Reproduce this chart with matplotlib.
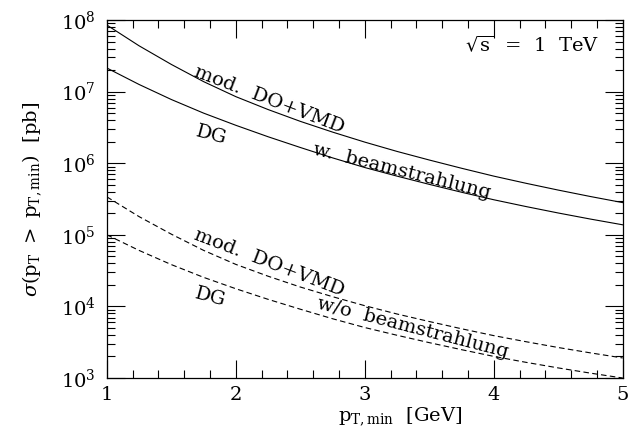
import numpy as np
import matplotlib
matplotlib.use('Agg')
import matplotlib.pyplot as plt
from matplotlib.ticker import LogLocator, MultipleLocator, NullFormatter

plt.rcParams['font.family'] = ['DejaVu Serif']
plt.rcParams['mathtext.fontset'] = 'dejavuserif'

# pT,min [GeV]
pt_min = [1.0, 1.25, 1.5, 1.75, 2.0, 2.25, 2.5, 2.75, 3.0,
          3.25, 3.5, 3.75, 4.0, 4.25, 4.5, 4.75, 5.0]

# log10(sigma / pb)
log_with_beam_do_vmd = [7.93, 7.64, 7.38, 7.14, 6.93, 6.75, 6.585, 6.435, 6.295,
                        6.165, 6.045, 5.93, 5.82, 5.72, 5.625, 5.535, 5.45]
log_with_beam_dg = [7.33, 7.10, 6.89, 6.70, 6.53, 6.37, 6.22, 6.075, 5.94,
                    5.82, 5.705, 5.595, 5.49, 5.395, 5.305, 5.22, 5.14]
log_without_beam_do_vmd = [5.53, 5.254, 5.009, 4.783, 4.587, 4.422, 4.271, 4.136, 4.01,
                           3.894, 3.789, 3.688, 3.592, 3.507, 3.426, 3.351, 3.28]
log_without_beam_dg = [5.00, 4.782, 4.584, 4.406, 4.247, 4.099, 3.961, 3.828, 3.705,
                       3.597, 3.494, 3.396, 3.302, 3.219, 3.141, 3.068, 3.00]

fig = plt.figure(figsize=(6.4, 4.36), dpi=100)
ax = fig.add_axes([0.167, 0.133, 0.806, 0.821])

dash = (0, (5, 3))
ax.plot(pt_min, 10**np.array(log_with_beam_do_vmd), color='black', lw=0.8)
ax.plot(pt_min, 10**np.array(log_with_beam_dg), color='black', lw=0.8)
ax.plot(pt_min, 10**np.array(log_without_beam_do_vmd), color='black', lw=0.8, ls=dash)
ax.plot(pt_min, 10**np.array(log_without_beam_dg), color='black', lw=0.8, ls=dash)

ax.set_yscale('log')
ax.set_xlim(1, 5)
ax.set_ylim(1e3, 1e8)

ax.xaxis.set_major_locator(MultipleLocator(1))
ax.xaxis.set_minor_locator(MultipleLocator(0.2))
ax.yaxis.set_major_locator(LogLocator(base=10, numticks=10))
ax.yaxis.set_minor_locator(LogLocator(base=10, subs=np.arange(2, 10), numticks=20))
ax.yaxis.set_minor_formatter(NullFormatter())
ax.tick_params(which='both', direction='in', top=True, right=True, width=0.8, labelsize=14)
ax.tick_params(which='major', length=13)
ax.tick_params(axis='x', which='major', pad=6)
ax.tick_params(axis='y', which='major', pad=8)
ax.tick_params(which='minor', length=6)
for s in ax.spines.values():
    s.set_linewidth(0.9)

ax.set_xlabel(r'$\mathrm{p_{T,min}}$  [GeV]', fontsize=14)
ax.xaxis.set_label_coords(0.568, -0.078)
ax.set_ylabel(r'$\sigma(\mathrm{p_T}\ >\ \mathrm{p_{T,min}})$  [pb]', fontsize=14, labelpad=12)

lab = dict(fontsize=14, ha='center', va='center')
ax.text(2.26, 10**6.88, 'mod.  DO+VMD', rotation=-21, **lab)
ax.text(1.81, 10**6.39, 'DG', rotation=-15, **lab)
ax.text(3.29, 10**5.88, 'w.  beamstrahlung', rotation=-14, **lab)
ax.text(2.26, 10**4.61, 'mod.  DO+VMD', rotation=-21, **lab)
ax.text(1.80, 10**4.13, 'DG', rotation=-15, **lab)
ax.text(3.37, 10**3.70, 'w/o  beamstrahlung', rotation=-14.5, **lab)
ax.text(0.955, 0.93, r'$\sqrt{\mathrm{s}}$  =  1  TeV', transform=ax.transAxes,
        fontsize=14, ha='right', va='center')

fig.savefig('out.png', dpi=100)
